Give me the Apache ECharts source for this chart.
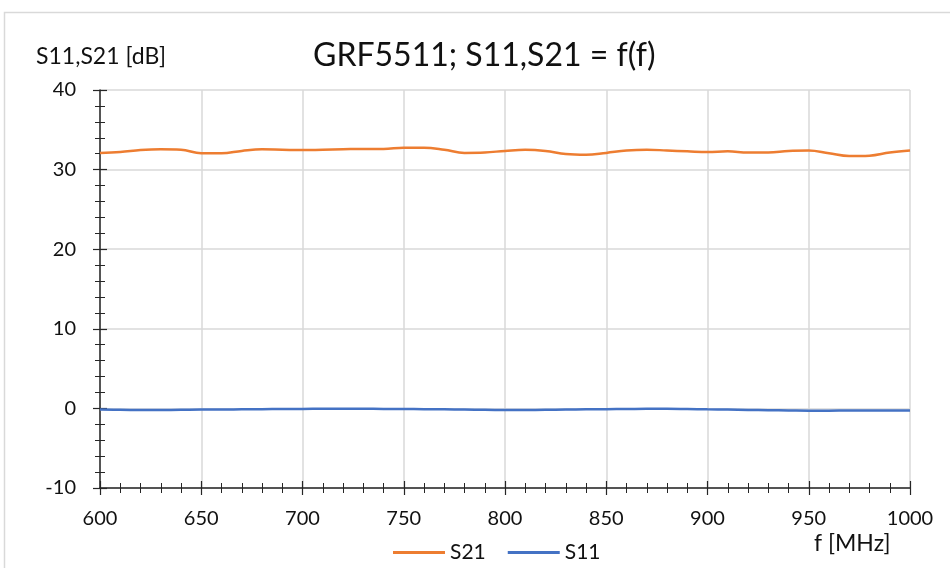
<!DOCTYPE html>
<html lang="en">
<head>
    <meta charset="UTF-8">
    <title>GRF5511; S11,S21 = f(f)</title>
    <style>
        html, body { margin: 0; padding: 0; background: #fff; }
        #chart { width: 950px; height: 568px; }
    </style>
</head>
<body>
    <div id="chart"></div>
    <script src="https://cdn.jsdelivr.net/npm/echarts@6/dist/echarts.min.js"></script>
    <script>
        // frequency points, MHz
        var freq = [600, 610, 620, 630, 640, 650, 660, 670, 680, 690,
            700, 710, 720, 730, 740, 750, 760, 770, 780, 790,
            800, 810, 820, 830, 840, 850, 860, 870, 880, 890,
            900, 910, 920, 930, 940, 950, 960, 970, 980, 990, 1000];
        // S21, dB
        var s21 = [32.1, 32.2, 32.45, 32.55, 32.5, 32.05, 32.05, 32.35, 32.55, 32.5,
            32.45, 32.5, 32.55, 32.6, 32.6, 32.75, 32.75, 32.5, 32.1, 32.15,
            32.35, 32.5, 32.35, 31.95, 31.85, 32.1, 32.4, 32.5, 32.4, 32.3,
            32.2, 32.3, 32.15, 32.15, 32.35, 32.4, 32.05, 31.7, 31.75, 32.15, 32.4];
        // S11, dB
        var s11 = [-0.15, -0.18, -0.2, -0.2, -0.18, -0.15, -0.15, -0.12, -0.1, -0.08,
            -0.06, -0.05, -0.05, -0.05, -0.06, -0.08, -0.1, -0.12, -0.15, -0.18,
            -0.2, -0.2, -0.18, -0.15, -0.12, -0.1, -0.08, -0.05, -0.05, -0.08,
            -0.12, -0.15, -0.2, -0.22, -0.25, -0.28, -0.28, -0.27, -0.26, -0.25, -0.25];

        var font = 'Lato, "Noto Sans", sans-serif';
        var ink = '#111';
        var axisDark = '#262626';

        function pairs(ys) {
            return freq.map(function(f, i) { return [f, ys[i]]; });
        }

        // two overlaid axes per direction so the ticks cross the axis line
        function xAxisDef(inside) {
            return {
                type: 'value', min: 600, max: 1000, interval: 50,
                position: 'bottom', offset: 0,
                axisLine: { show: !inside, onZero: false, lineStyle: { color: axisDark, width: 1.5 } },
                axisTick: { show: true, inside: inside, length: 7, lineStyle: { color: axisDark, width: 1.2 } },
                minorTick: { show: true, splitNumber: 5, length: 5, lineStyle: { color: axisDark, width: 1 } },
                axisLabel: {
                    show: !inside, margin: 21, color: ink, fontSize: 20, fontFamily: font,
                    formatter: function(v) { return String(v); }
                },
                splitLine: { show: !inside, lineStyle: { color: '#d9d9d9', width: 1.5 } }
            };
        }

        function yAxisDef(inside) {
            return {
                type: 'value', min: -10, max: 40, interval: 10,
                position: 'left', offset: 0,
                axisLine: { show: !inside, onZero: false, lineStyle: { color: axisDark, width: 1.5 } },
                axisTick: { show: true, inside: inside, length: 7, lineStyle: { color: axisDark, width: 1.2 } },
                minorTick: { show: true, splitNumber: 5, length: 5, lineStyle: { color: axisDark, width: 1 } },
                axisLabel: { show: !inside, margin: 24, color: ink, fontSize: 20, fontFamily: font },
                splitLine: { show: !inside, lineStyle: { color: '#d9d9d9', width: 1.5 } }
            };
        }

        var myChart = echarts.init(document.getElementById('chart'));
        var option = {
            animation: false,
            backgroundColor: '#fff',
            title: {
                text: 'GRF5511; S11,S21 = f(f)',
                left: 308, top: 35,
                textStyle: { color: ink, fontSize: 32, fontWeight: 'normal', fontFamily: font }
            },
            grid: { left: 100, right: 40, top: 90, bottom: 80 },
            legend: {
                left: 388, top: 537,
                icon: 'rect', itemWidth: 52, itemHeight: 3, itemGap: 22,
                textStyle: { color: ink, fontSize: 21, fontFamily: font },
                data: ['S21', 'S11']
            },
            graphic: [{
                type: 'rect', silent: true,
                shape: { x: 4.5, y: 12.5, width: 980, height: 600 },
                style: { fill: 'none', stroke: '#d9d9d9', lineWidth: 1.5 }
            }, {
                type: 'text', left: 36, top: 45,
                style: { text: 'S11,S21 [dB]', fill: ink, font: '23px ' + font }
            }, {
                type: 'text', left: 814, top: 532,
                style: { text: 'f [MHz]', fill: ink, font: '23px ' + font }
            }],
            xAxis: [xAxisDef(false), xAxisDef(true)],
            yAxis: [yAxisDef(false), yAxisDef(true)],
            series: [{
                name: 'S21', type: 'line', smooth: 0.4, showSymbol: false,
                data: pairs(s21),
                lineStyle: { color: '#ED7D31', width: 2.5 },
                itemStyle: { color: '#ED7D31' }
            }, {
                name: 'S11', type: 'line', smooth: 0.4, showSymbol: false,
                data: pairs(s11),
                lineStyle: { color: '#4472C4', width: 2.5 },
                itemStyle: { color: '#4472C4' }
            }]
        };
        myChart.setOption(option);
    </script>
</body>
</html>
